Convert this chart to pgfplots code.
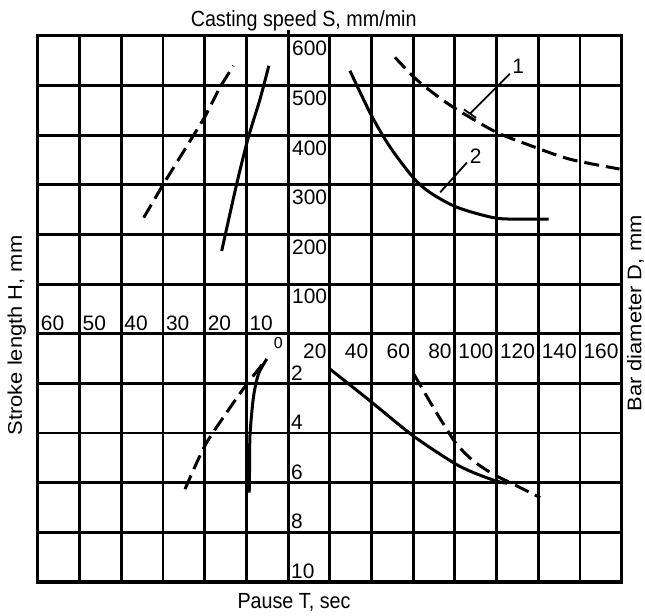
\documentclass[border=0pt]{standalone}
\usepackage{pgfplots}
\pgfplotsset{compat=1.18}
\usepackage{pgfplotstable}
\usepackage{graphicx}
\usepackage{fontspec}
\setmainfont{Liberation Sans}

% top-left quadrant: stroke length H (mm) vs casting speed S (mm/min)
\pgfplotstableread[row sep=\\]{
H S \\ 34.6 234 \\ 30 300 \\ 25 368 \\ 20 436 \\ 16.3 497 \\ 13.1 540 \\
}\HSdash
\pgfplotstableread[row sep=\\]{
H S \\ 15.9 167 \\ 12.3 302 \\ 9.5 396 \\ 6.7 473 \\ 4.6 540 \\
}\HSsolid
% top-right quadrant: bar diameter D (mm) vs casting speed S
\pgfplotstableread[row sep=\\]{
D S \\ 51.3 557 \\ 61.7 512 \\ 74.5 470 \\ 85.7 440 \\ 100 406 \\ 114.5 382 \\ 135 352 \\ 159 332 \\
}\DSone
\pgfplotstableread[row sep=\\]{
D S \\ 29.7 530 \\ 40 440 \\ 49 376 \\ 60 315 \\ 68 285 \\ 81 255 \\ 98.5 234 \\ 110 231 \\ 125 231 \\
}\DStwo
% bottom-right quadrant: bar diameter D vs pause T (s)
\pgfplotstableread[row sep=\\]{
D T \\ 20.1 1.42 \\ 39.3 2.7 \\ 60 4.11 \\ 79.3 5.19 \\ 88.9 5.59 \\ 99.8 5.93 \\ 105 6.02 \\
}\DTsolid
\pgfplotstableread[row sep=\\]{
D T \\ 60.4 1.63 \\ 69.7 2.97 \\ 76.1 3.84 \\ 80.9 4.45 \\ 88.9 5.12 \\ 98.5 5.66 \\ 108.1 6.06 \\ 120.9 6.6 \\
}\DTdash
% bottom-left quadrant: stroke length H vs pause T
\pgfplotstableread[row sep=\\]{
H T \\ 24.7 6.26 \\ 19.9 4.5 \\ 14.7 3.17 \\ 9.9 2.03 \\ 5.1 1.02 \\
}\HTdash
\pgfplotstableread[row sep=\\]{
H T \\ 9.3 6.4 \\ 9.2 5.2 \\ 9.1 4.04 \\ 8.3 2.57 \\ 7.1 1.63 \\ 5.1 1.02 \\
}\HTsolid

\newcommand{\tk}[1]{{\fontsize{21}{24}\selectfont #1}}
\newcommand{\lab}[1]{{\fontsize{22}{26}\selectfont\scalebox{0.9}[1]{#1}}}
\newcommand{\labv}[1]{{\fontsize{22}{26}\selectfont\scalebox{1}[0.9]{#1}}}

\begin{document}
\begin{tikzpicture}[
  dsh/.style={dash pattern=on 15bp off 7bp},
  sl/.style={anchor=north west, inner sep=0pt, xshift=4bp, yshift=-5bp},
  hl/.style={anchor=south west, inner sep=0pt, xshift=3bp, yshift=3bp},
  dl/.style={anchor=north east, inner sep=0pt, xshift=-3bp, yshift=-10bp},
  tl/.style={anchor=south west, inner sep=0pt, xshift=3bp, yshift=3bp},
]
\path[use as bounding box] (-37.8bp,-34bp) rectangle (607.2bp,582bp);
\begin{axis}[
  at={(0,0)}, anchor=south west,
  scale only axis, width=583.8bp, height=546bp,
  xmin=-6, xmax=8, ymin=-5, ymax=6,
  xtick={-6,...,8}, ytick={-5,...,6},
  xticklabels={}, yticklabels={},
  major tick length=0pt,
  grid=major,
  major grid style={black, line width=2.8bp},
  axis line style={black, line width=3bp},
  clip=false,
  no markers,
  every axis plot/.append style={black, line width=3bp},
]
% centre axes
\draw[line width=3.2bp] (axis cs:-6,0) -- (axis cs:8,0);
\draw[line width=3bp] (axis cs:0,-5) -- (axis cs:0,6) -- ([yshift=6bp]axis cs:0,6);

\addplot[dsh] table[x expr=-\thisrow{H}/10, y expr=\thisrow{S}/100] {\HSdash};
\addplot[smooth] table[x expr=-\thisrow{H}/10, y expr=\thisrow{S}/100] {\HSsolid};
\addplot[dsh, smooth] table[x expr=\thisrow{D}/20, y expr=\thisrow{S}/100] {\DSone};
\addplot[smooth] table[x expr=\thisrow{D}/20, y expr=\thisrow{S}/100] {\DStwo};
\addplot[smooth] table[x expr=\thisrow{D}/20, y expr=-\thisrow{T}/2] {\DTsolid};
\addplot[dsh, smooth] table[x expr=\thisrow{D}/20, y expr=-\thisrow{T}/2] {\DTdash};
\addplot[dsh, smooth] table[x expr=-\thisrow{H}/10, y expr=-\thisrow{T}/2] {\HTdash};
\addplot[smooth] table[x expr=-\thisrow{H}/10, y expr=-\thisrow{T}/2] {\HTsolid};

% leaders for curve numbers
\draw[line width=1.8bp] (axis cs:4.36,4.43) -- (axis cs:5.32,5.24);
\draw[line width=1.8bp] (axis cs:4.22,4.52) -- (axis cs:4.51,4.35);
\node at (axis cs:5.52,5.39) {\tk{1}};
\draw[line width=1.8bp] (axis cs:3.65,2.85) -- (axis cs:4.29,3.45);
\node at (axis cs:4.5,3.57) {\tk{2}};

% S scale (top)
\node[sl] at (axis cs:0,6) {\tk{600}};
\node[sl] at (axis cs:0,5) {\tk{500}};
\node[sl] at (axis cs:0,4) {\tk{400}};
\node[sl] at (axis cs:0,3) {\tk{300}};
\node[sl] at (axis cs:0,2) {\tk{200}};
\node[sl] at (axis cs:0,1) {\tk{100}};
% H scale (left)
\node[hl] at (axis cs:-6,0) {\tk{60}};
\node[hl] at (axis cs:-5,0) {\tk{50}};
\node[hl] at (axis cs:-4,0) {\tk{40}};
\node[hl] at (axis cs:-3,0) {\tk{30}};
\node[hl] at (axis cs:-2,0) {\tk{20}};
\node[hl] at (axis cs:-1,0) {\tk{10}};
% D scale (right)
\node[anchor=north east, inner sep=0pt, xshift=-5bp, yshift=-3bp] at (axis cs:0,0) {{\fontsize{16}{18}\selectfont 0}};
\node[dl] at (axis cs:1,0) {\tk{20}};
\node[dl] at (axis cs:2,0) {\tk{40}};
\node[dl] at (axis cs:3,0) {\tk{60}};
\node[dl] at (axis cs:4,0) {\tk{80}};
\node[dl] at (axis cs:5,0) {\tk{100}};
\node[dl] at (axis cs:6,0) {\tk{120}};
\node[dl] at (axis cs:7,0) {\tk{140}};
\node[dl] at (axis cs:8,0) {\tk{160}};
% T scale (bottom)
\node[tl] at (axis cs:0,-1) {\tk{2}};
\node[tl] at (axis cs:0,-2) {\tk{4}};
\node[tl] at (axis cs:0,-3) {\tk{6}};
\node[tl] at (axis cs:0,-4) {\tk{8}};
\node[tl] at (axis cs:0,-5) {\tk{10}};
\end{axis}
\node[anchor=base] at (265.9bp,555bp) {\lab{Casting speed S, mm/min}};
\node[anchor=base] at (256.2bp,-26bp) {\lab{Pause T, sec}};
\node[rotate=90, anchor=base, inner sep=0pt] at (-16bp,246.5bp) {\labv{Stroke length H, mm}};
\node[rotate=90, anchor=base, inner sep=0pt] at (603.5bp,268.5bp) {\labv{Bar diameter D, mm}};
\end{tikzpicture}
\end{document}
